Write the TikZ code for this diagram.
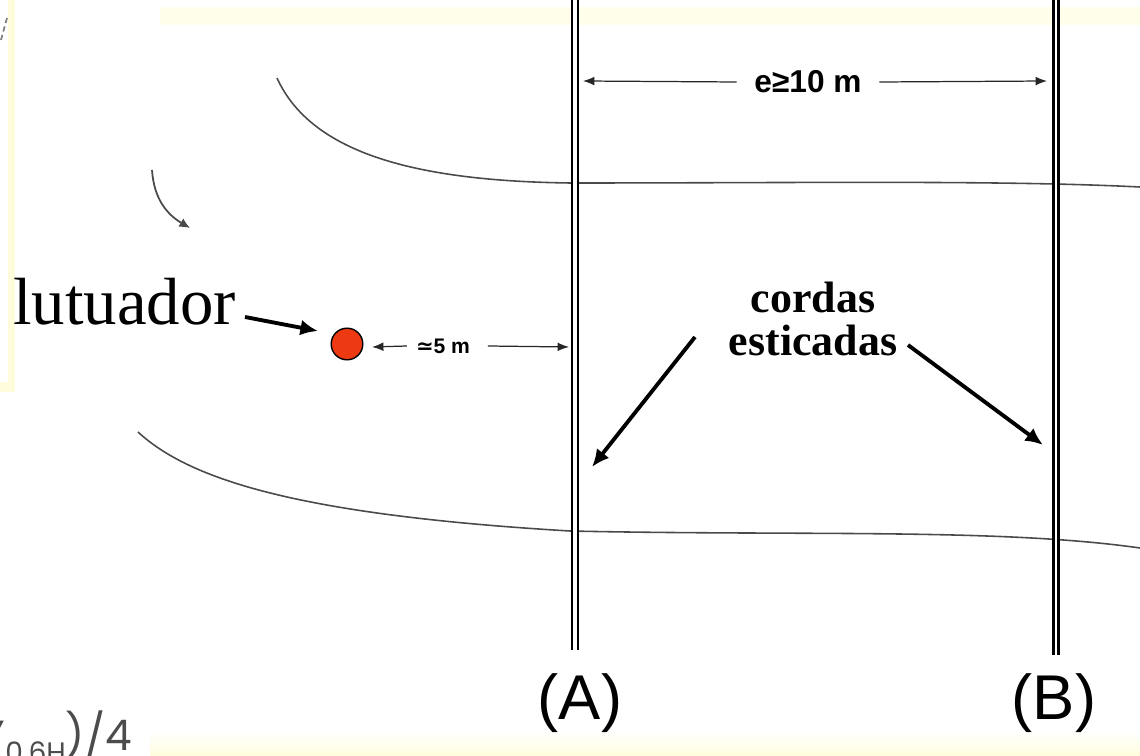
\documentclass[tikz,border=0pt]{standalone}
\usepackage{fontspec}
\setmainfont{Liberation Serif}
\setsansfont{Liberation Sans}
\newfontfamily\symfont{DejaVu Sans}
\newfontfamily\gothfont{Poppins}
\usetikzlibrary{arrows.meta}
\definecolor{paleyellow}{HTML}{FFFCDC}
\definecolor{faintyellow}{HTML}{FEFEEA}
\definecolor{flowgray}{HTML}{4A4A4A}
\definecolor{floatred}{HTML}{EE3A12}
\definecolor{textgray}{HTML}{4C4C4C}
\tikzset{
  flow/.style={draw=flowgray, line width=0.9pt},
  dimarrow/.style={draw=black!85, line width=0.7pt, -{Latex[length=6.5pt,width=5pt]}},
  bigarrow/.style={draw=black, line width=2.2pt, -{Latex[length=10pt,width=9pt]}},
  ropeA/.style={draw=black, double=white, line width=1.1pt, double distance=2.2pt},
  ropeB/.style={draw=black, double=white, line width=2pt, double distance=1.1pt},
  lettertag/.style={font=\sffamily\fontsize{36}{40}\selectfont, inner sep=0pt},
  dimtext/.style={font=\sffamily\bfseries, inner sep=0pt},
}
\begin{document}
\begin{tikzpicture}[x=0.02cm, y=-0.02cm]
\useasboundingbox (0,0) rectangle (1140,756);
\clip (0,0) rectangle (1140,756);
% background strips
\fill[paleyellow] (8,0) rectangle (15,392);
\fill[paleyellow] (0,382) rectangle (15,392);
\fill[faintyellow] (160,7) rectangle (1140,25);
\shade[top color=white, bottom color=paleyellow] (150,732) rectangle (1140,756);
% small grey fragment top-left
\draw[gray, line width=1pt, dash pattern=on 3pt off 2pt] (1,40) -- (7,18);
% flow lines
\draw[flow] (277,78) .. controls (312,155) and (420,181) .. (570,183)
            .. controls (800,183) and (1000,180) .. (1140,187);
\draw[flow] (138,432) .. controls (190,480) and (300,515) .. (570,531)
            .. controls (800,536) and (1000,528) .. (1140,548);
% small curved arrow
\coordinate (cs) at (152,170);
\coordinate (ce) at (190,228);
\draw[draw=flowgray, line width=1pt, -{Latex[length=6pt,width=5.5pt]}] (cs) .. controls (154,200) and (168,215) .. (ce);
% ropes
\coordinate (Atop) at (575,-5);
\coordinate (Abot) at (575,650);
\coordinate (Btop) at (1056,-5);
\coordinate (Bbot) at (1056,655);
\draw[ropeA] (Atop) -- (Abot);
\draw[ropeB] (Btop) -- (Bbot);
\node[lettertag] (labA) at (580,703) {(A)};
\node[lettertag] (labB) at (1054,703) {(B)};
% e >= 10 m
\node[dimtext, font=\sffamily\bfseries\fontsize{18}{20}\selectfont] (edim) at (808,82) {e≥10 m};
\coordinate (eAtip) at (583,81);
\coordinate (eBtip) at (1047,81);
\draw[dimarrow] ([xshift=-10pt]edim.west) -- (eAtip);
\draw[dimarrow] ([xshift=10pt]edim.east) -- (eBtip);
% float
\node[circle, fill=floatred, draw=black, line width=0.8pt, minimum size=18pt, inner sep=0pt] (float) at (347,344) {};
\node[anchor=base west, inner sep=0pt, font=\fontsize{38}{40}\selectfont] (flut) at (13,325) {lutuador};
\coordinate (fluttip) at (318,331);
\draw[bigarrow] (245,317) -- (fluttip);
% ~5 m
\node[dimtext, font=\sffamily\bfseries\fontsize{12}{14}\selectfont] (fivem) at (443,346) {{\symfont\bfseries ≃}5 m};
\coordinate (fAtip) at (372,347);
\coordinate (fBtip) at (569,347);
\draw[dimarrow] ([xshift=-5pt]fivem.west) -- (fAtip);
\draw[dimarrow] ([xshift=10pt]fivem.east) -- (fBtip);
% cordas esticadas
\node[align=center, inner sep=0pt, font=\bfseries\fontsize{25}{25}\selectfont] (cordas) at (813,319) {cordas\\esticadas};
\coordinate (cAtip) at (592,467);
\coordinate (cBtip) at (1043,445);
\draw[bigarrow] (695,337) -- (cAtip);
\draw[bigarrow] (908,345) -- (cBtip);
% bottom-left formula fragment
\node[anchor=base east, inner sep=0pt, text=textgray, font=\gothfont\fontsize{24}{26}\selectfont] (formula) at (132,750) {Y\raisebox{-7pt}{\fontsize{16}{16}\selectfont 0,6H})/4};
\end{tikzpicture}
\end{document}
